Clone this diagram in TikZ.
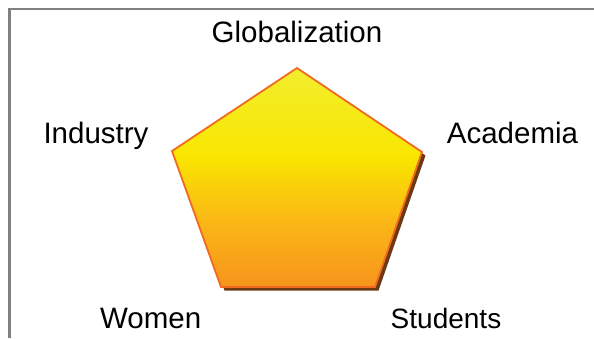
\documentclass[tikz,border=0pt]{standalone}
\usepackage{fontspec}
\setmainfont{Liberation Sans}
\definecolor{framegray}{HTML}{808080}
\definecolor{pentedge}{HTML}{F26A21}
\definecolor{pentshadow}{HTML}{6B3A12}
\definecolor{penttop}{HTML}{F2EE2E}
\definecolor{pentmid}{HTML}{F9E600}
\definecolor{pentlow}{HTML}{FAB716}
\definecolor{pentbot}{HTML}{F7941D}
\pgfdeclareverticalshading{pentshade}{100bp}{color(0bp)=(pentbot); color(25bp)=(pentbot); color(40bp)=(pentlow); color(55bp)=(pentmid); color(75bp)=(penttop); color(100bp)=(penttop)}
\tikzset{
  lbl/.style={anchor=base, inner sep=0pt, font=\fontsize{29.5}{34}\selectfont},
  lblsmall/.style={anchor=base, inner sep=0pt, font=\fontsize{28}{33}\selectfont},
  frameline/.style={draw=framegray, line width=2.2pt},
}
\begin{document}
\begin{tikzpicture}[x=1pt, y=-1pt]
\useasboundingbox (0,0) rectangle (594,338);
% frame
\draw[frameline] (9.5,338) -- (9.5,9) -- (594,9);
% pentagon vertices
\coordinate (T) at (297,68);
\coordinate (L) at (172,151);
\coordinate (R) at (422,152);
\coordinate (BL) at (221,287);
\coordinate (BR) at (375,287);
% shadow
\fill[pentshadow] ([shift={(3.5,3.5)}]T) -- ([shift={(3.5,3.5)}]R) -- ([shift={(3.5,3.5)}]BR)
  -- ([shift={(3.5,3.5)}]BL) -- ([shift={(3.5,3.5)}]L) -- cycle;
% pentagon
\shade[shading=pentshade]
  (T) -- (R) -- (BR) -- (BL) -- (L) -- cycle;
\draw[pentedge, line width=1.8pt, line join=miter]
  (T) -- (R) -- (BR) -- (BL) -- (L) -- cycle;
% labels
\node[lbl] (glob) at (297,42.7) {Globalization};
\node[lbl] (ind) at (96,143.3) {Industry};
\node[lbl] (acad) at (512.5,143.3) {Academia};
\node[lbl] (wom) at (150.7,328.3) {Women};
\node[lblsmall] (stu) at (446,328.3) {Students};
\end{tikzpicture}
\end{document}
